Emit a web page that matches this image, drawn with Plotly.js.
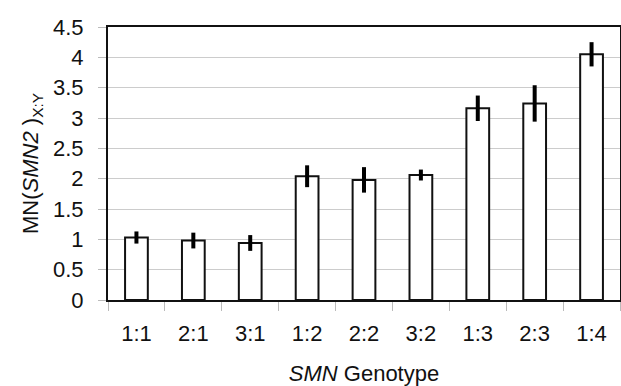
<!DOCTYPE html>
<html>
<head>
<meta charset="utf-8">
<script src="https://cdn.plot.ly/plotly-3.0.1.min.js"></script>
<style>html,body{margin:0;padding:0;background:#fff;overflow:hidden}#chart{width:621px;height:386px}</style>
</head>
<body>
<div id="chart"></div>
<script>
const genotypes = ["1:1","2:1","3:1","1:2","2:2","3:2","1:3","2:3","1:4"];
const meanValues = [1.03, 0.98, 0.94, 2.04, 1.98, 2.06, 3.16, 3.24, 4.05];
const errorValues = [0.10, 0.13, 0.13, 0.18, 0.21, 0.09, 0.21, 0.30, 0.20];
const yTickValues = [0, 0.5, 1, 1.5, 2, 2.5, 3, 3.5, 4, 4.5];

const fontFam = "Liberation Sans, Arial, sans-serif";

Plotly.newPlot("chart", [{
  type: "bar",
  x: genotypes,
  y: meanValues,
  marker: {color: "#ffffff", line: {color: "#111111", width: 2}},
  error_y: {type: "data", array: errorValues, visible: true, color: "#000000", thickness: 4, width: 0}
}], {
  width: 621, height: 386,
  margin: {l: 108, r: 1, t: 27, b: 86},
  paper_bgcolor: "#ffffff", plot_bgcolor: "#ffffff",
  bargap: 0.6,
  showlegend: false,
  font: {family: fontFam, color: "#111111", size: 22},
  xaxis: {
    type: "category",
    tickson: "boundaries",
    ticks: "outside", ticklen: 9, tickcolor: "#bbbbbb", tickwidth: 1,
    ticklabelstandoff: 13,
    showgrid: false,
    showline: true, linecolor: "#111111", linewidth: 2, mirror: true,
    tickfont: {size: 22, family: fontFam, color: "#111111"},
    title: {text: "<i>SMN</i> Genotype", font: {size: 22, family: fontFam, color: "#111111"}, standoff: 22}
  },
  yaxis: {
    range: [0, 4.5],
    tickvals: yTickValues,
    ticktext: yTickValues.map(String),
    ticks: "outside", ticklen: 8, tickcolor: "#bbbbbb", tickwidth: 1,
    ticklabelstandoff: 10,
    showgrid: true, gridcolor: "#cccccc", gridwidth: 1,
    zeroline: false,
    showline: true, linecolor: "#111111", linewidth: 2, mirror: true,
    tickfont: {size: 22, family: fontFam, color: "#111111"},
    title: {text: "MN(<i>SMN2</i> )<sub>X:Y</sub>", font: {size: 22, family: fontFam, color: "#111111"}, standoff: 8}
  }
}, {staticPlot: true});
</script>
</body>
</html>
